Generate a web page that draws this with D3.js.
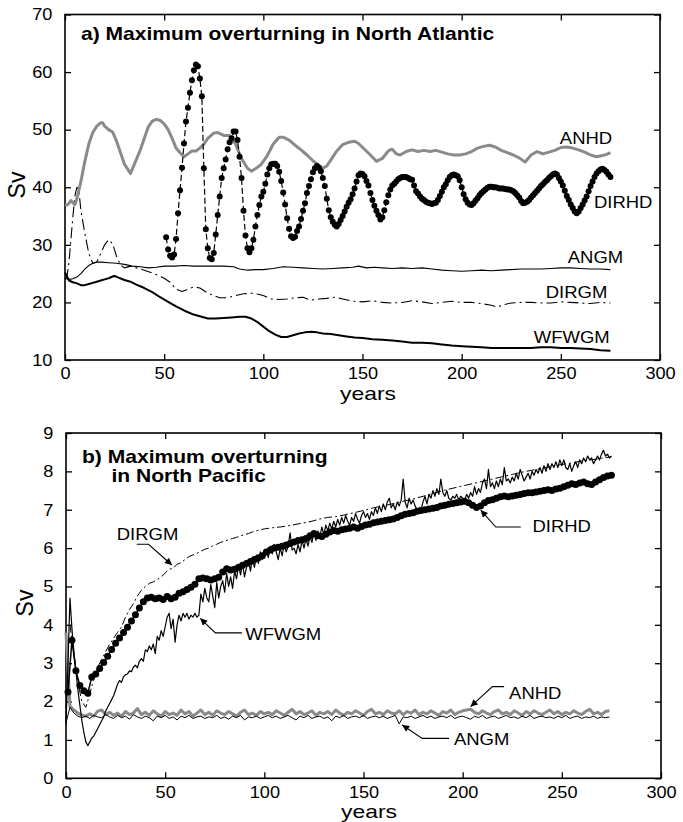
<!DOCTYPE html>
<html>
<head>
<meta charset="utf-8">
<script src="https://cdn.jsdelivr.net/npm/d3@7"></script>
<style>
  body { margin: 0; background: #fff; }
  svg text { font-family: "Liberation Sans", Arial, Helvetica, sans-serif; fill: #000; }
</style>
</head>
<body>
<script>
// ---------- data: panel a, North Atlantic (Sv) ----------
var xTicks = [0, 50, 100, 150, 200, 250, 300];
var yTicksA = [10, 20, 30, 40, 50, 60, 70];
var yTicksB = [0, 1, 2, 3, 4, 5, 6, 7, 8, 9];

var anhdA = [[0,37.0],[1,36.9],[2,37.2],[3,37.7],[4,37.3],[5,37.0],[6,38.0],[8,41.0],[10,44.5],[12,47.5],
  [14,49.5],[16,50.6],[18,51.2],[19,51.2],[20,50.6],[22,50.0],[24,49.6],[26,48.0],[28,46.0],[30,44.0],
  [33,42.4],[35,44.0],[38,46.5],[40,48.5],[42,50.5],[44,51.5],[46,51.8],[48,51.6],[50,51.0],[52,50.0],
  [54,48.5],[56,46.8],[58,46.0],[60,45.3],[62,45.8],[64,46.3],[66,46.3],[68,46.8],[70,47.5],[72,48.5],
  [75,49.4],[77,49.5],[80,49.0],[83,49.0],[86,47.5],[89,45.0],[92,43.3],[94,42.8],[96,43.2],[99,44.0],
  [102,45.5],[105,47.5],[108,48.7],[110,48.7],[113,48.2],[116,47.3],[119,46.5],[122,45.6],[125,44.6],[128,43.8],
  [130,43.3],[132,43.7],[134,44.7],[137,46.3],[140,47.4],[143,47.8],[146,48.0],[148,47.6],[151,46.6],[154,45.6],
  [157,44.5],[160,45.0],[163,46.3],[165,46.6],[167,45.8],[169,45.6],[172,46.2],[175,46.5],[178,46.2],[181,46.4],
  [184,46.2],[187,46.4],[190,46.1],[193,45.8],[196,45.6],[199,45.6],[202,45.8],[205,46.2],[208,46.8],[211,47.1],
  [214,47.3],[217,47.0],[220,46.4],[223,46.0],[226,45.6],[229,45.1],[232,44.4],[235,45.6],[238,46.2],[241,45.8],
  [244,46.1],[247,46.4],[250,46.9],[253,47.0],[256,46.8],[259,46.5],[262,46.1],[265,45.6],[268,45.3],[271,45.5],
  [273,45.7],[275,46.0]];

var dirhdAStart = 51;
var dirhdAVals = [
  31.3,29.2,28.1,27.8,28.3,31.0,35.5,39.5,43.4,47.6,
  51.4,53.8,56.4,58.6,60.3,61.3,61.0,58.9,55.8,43.3,
  32.7,29.4,27.7,27.5,28.6,31.8,35.2,38.4,41.6,43.3,
  44.8,46.6,47.8,48.5,49.7,49.7,48.2,45.3,41.6,35.9,
  31.6,29.4,28.7,29.4,30.9,33.2,35.2,36.9,38.4,39.2,
  40.6,42.2,43.3,44.0,44.1,44.1,43.7,42.7,41.1,39.1,
  37.0,34.6,32.8,31.5,31.2,31.4,32.4,33.2,34.5,35.9,
  37.2,39.0,40.2,41.4,42.6,43.3,43.7,43.4,42.8,41.6,
  40.2,38.0,36.0,34.8,34.0,33.5,33.2,33.6,34.3,35.0,
  35.8,36.6,37.3,37.9,38.8,39.8,41.0,42.1,42.4,42.3,
  41.9,41.1,40.3,39.0,37.8,36.8,35.9,35.2,34.4,34.8,
  36.0,37.4,38.6,39.6,40.3,40.6,41.0,41.4,41.6,41.8,
  41.8,41.8,41.6,41.4,41.3,40.3,39.3,38.9,38.4,38.0,
  37.8,37.5,37.3,37.2,37.1,37.2,37.3,37.8,38.5,39.2,
  40.0,40.5,41.2,41.8,42.1,42.2,42.1,41.9,41.2,40.0,
  38.8,37.9,37.3,37.0,36.9,37.2,37.7,38.1,38.6,39.0,
  39.3,39.6,39.9,40.1,40.1,40.0,40.0,39.9,39.8,39.8,
  39.8,39.7,39.6,39.6,39.5,39.3,39.0,38.6,38.2,37.6,
  37.2,37.3,37.5,37.8,38.2,38.6,39.0,39.4,39.8,40.2,
  40.5,40.9,41.2,41.6,41.9,42.2,42.4,42.2,41.6,41.0,
  40.3,39.4,38.5,37.8,37.0,36.4,35.8,35.5,35.8,36.4,
  37.0,37.7,38.4,39.3,40.2,41.0,41.8,42.4,42.8,43.1,
  43.2,43.0,42.7,42.2,41.8];

var angmA = [[0,24.2],[2,24.0],[4,24.1],[6,24.4],[8,25.0],[10,25.8],[12,26.4],[14,26.8],[16,27.0],[18,27.0],
  [22,26.9],[26,26.8],[30,26.6],[34,26.3],[38,26.2],[42,26.0],[46,26.1],[50,26.3],[55,26.3],[60,26.4],
  [65,26.3],[70,26.3],[75,26.3],[80,26.3],[85,26.2],[88,25.8],[92,25.6],[96,25.7],[100,25.7],[105,25.9],
  [110,26.2],[115,26.1],[120,26.0],[125,25.9],[130,25.8],[135,25.9],[140,26.0],[145,26.1],[148,26.3],[152,26.0],
  [156,26.1],[160,26.0],[165,25.9],[170,26.0],[175,25.9],[180,26.0],[185,25.8],[190,25.6],[195,25.5],[200,25.4],
  [205,25.5],[210,25.6],[215,25.5],[220,25.6],[225,25.7],[230,25.8],[235,25.8],[240,25.8],[245,25.9],[250,26.0],
  [255,26.0],[260,25.9],[265,25.8],[270,25.8],[275,25.7]];

var dirgmA = [[0,24.0],[1,24.5],[2,27.0],[3,31.0],[4,35.0],[5,38.5],[6,40.0],[7,39.5],[8,36.0],[10,32.0],
  [12,28.5],[14,26.8],[16,27.0],[18,28.5],[20,30.0],[22,30.9],[24,30.2],[26,28.0],[28,26.5],[30,26.0],
  [33,26.3],[36,26.0],[40,25.6],[45,25.0],[50,24.2],[53,23.5],[56,22.3],[59,21.9],[62,22.3],[65,22.7],
  [68,22.5],[72,21.6],[75,21.2],[78,20.8],[82,20.8],[86,21.2],[90,21.5],[95,21.6],[100,21.2],[104,20.6],
  [108,20.5],[112,20.6],[116,20.8],[120,20.9],[124,20.4],[128,20.6],[132,20.7],[136,20.9],[140,20.6],[145,20.2],
  [150,20.1],[155,20.3],[160,20.0],[165,19.9],[170,20.0],[175,20.3],[180,20.1],[185,19.8],[190,20.0],[195,20.2],
  [200,20.0],[205,20.0],[210,19.8],[215,19.5],[218,19.2],[221,19.6],[225,19.9],[230,20.0],[235,20.0],[240,19.9],
  [245,19.9],[250,20.1],[255,20.0],[260,19.9],[265,19.8],[270,20.0],[275,19.9]];

var wfwgmA = [[0,25.2],[1,24.5],[2,23.8],[4,23.5],[6,23.3],[8,23.0],[10,23.0],[12,23.2],[14,23.4],[16,23.6],
  [18,23.8],[20,24.0],[22,24.2],[24,24.5],[25,24.6],[27,24.3],[30,23.9],[33,23.6],[36,23.1],[40,22.5],
  [44,21.8],[48,20.9],[52,20.1],[56,19.3],[60,18.6],[64,18.0],[68,17.6],[72,17.2],[76,17.2],[80,17.3],
  [84,17.4],[88,17.5],[91,17.5],[94,17.2],[97,16.6],[100,15.8],[103,15.0],[106,14.4],[109,14.0],[112,14.0],
  [115,14.3],[118,14.6],[121,14.8],[124,14.9],[127,14.8],[130,14.6],[134,14.5],[138,14.3],[142,14.1],[146,13.9],
  [150,13.8],[155,13.6],[160,13.5],[165,13.4],[170,13.2],[175,13.0],[180,13.0],[185,12.9],[190,12.7],[195,12.5],
  [200,12.4],[205,12.3],[210,12.2],[215,12.1],[220,12.1],[225,12.1],[230,12.1],[235,12.1],[240,12.2],[245,12.2],
  [250,12.1],[255,12.1],[260,12.0],[265,11.9],[270,11.7],[275,11.6]];

// ---------- data: panel b, North Pacific (Sv) ----------
var dirhdBStart = 1, dirhdBStep = 2;
var dirhdBVals = [
  2.25,3.6,2.8,2.42,2.28,2.22,2.64,2.72,2.86,3.02,
  3.18,3.36,3.52,3.66,3.8,3.94,4.1,4.26,4.44,4.6,
  4.7,4.72,4.68,4.7,4.66,4.74,4.68,4.72,4.82,4.86,
  4.92,4.98,5.06,5.2,5.22,5.2,5.17,5.2,5.24,5.38,
  5.46,5.43,5.45,5.5,5.55,5.6,5.65,5.7,5.75,5.8,
  5.9,5.95,6.0,6.02,6.05,6.08,6.12,6.16,6.2,6.22,
  6.25,6.32,6.38,6.32,6.3,6.36,6.42,6.46,6.44,6.48,
  6.5,6.52,6.55,6.52,6.56,6.6,6.62,6.66,6.68,6.7,
  6.72,6.74,6.76,6.8,6.84,6.88,6.9,6.92,6.96,6.98,
  7.0,7.02,7.04,7.06,7.1,7.12,7.14,7.16,7.18,7.2,
  7.22,7.18,7.12,7.06,7.1,7.18,7.24,7.26,7.3,7.34,
  7.36,7.34,7.36,7.38,7.4,7.42,7.44,7.44,7.46,7.48,
  7.5,7.52,7.5,7.54,7.56,7.6,7.64,7.68,7.66,7.7,
  7.72,7.68,7.66,7.72,7.78,7.84,7.88,7.9];

var wfwgmBStart = 0;
var wfwgmBVals = [
  1.4,3.0,4.7,3.9,3.3,2.8,2.3,1.9,1.5,1.2,
  0.95,0.85,0.95,1.05,1.1,1.2,1.3,1.4,1.5,1.6,
  1.75,1.85,1.95,2.05,2.15,2.3,2.45,2.55,2.5,2.65,
  2.7,2.72,2.8,2.78,2.9,2.95,2.88,3.05,3.12,3.05,
  3.35,3.3,3.45,3.35,3.5,3.25,3.7,3.6,3.85,3.7,
  3.95,4.2,4.3,3.9,4.15,3.55,4.0,4.25,4.1,4.3,
  4.2,4.3,4.15,4.25,4.2,4.3,4.2,4.25,4.8,4.6,
  4.95,4.7,4.6,5.05,4.75,4.45,5.1,4.7,5.0,5.15,
  4.85,5.35,5.0,5.25,4.95,5.4,5.2,5.55,5.3,5.6,
  5.25,5.5,5.7,5.4,5.75,5.5,5.8,5.6,5.9,5.7,
  5.85,5.95,5.75,6.05,5.85,6.1,5.9,5.7,6.0,5.8,
  6.1,5.9,6.05,6.4,5.95,6.0,5.85,6.1,5.9,6.2,
  6.0,6.25,6.05,6.3,6.15,6.4,6.2,6.45,6.3,6.55,
  6.35,6.6,6.45,6.65,6.5,6.7,6.55,6.75,6.6,6.8,
  6.65,6.85,6.7,6.6,6.8,6.7,6.9,6.75,6.65,6.85,
  6.95,6.8,6.9,6.75,6.95,6.85,7.05,6.9,7.1,6.95,
  7.15,7.0,7.2,7.3,7.05,7.15,7.0,7.2,7.1,7.25,
  7.8,7.2,7.05,7.3,7.15,7.25,7.1,7.0,7.05,7.0,
  7.2,7.35,7.15,7.4,7.3,7.5,7.35,7.55,7.4,7.8,
  7.45,7.35,7.5,7.3,7.25,7.35,7.3,7.4,7.25,7.35,
  7.3,7.25,7.4,7.3,7.45,7.35,7.6,7.4,7.55,7.45,
  7.7,7.8,7.55,8.05,7.6,7.7,7.55,7.75,7.6,7.8,
  7.65,8.1,7.75,7.8,7.7,7.85,7.75,7.95,7.8,8.05,
  7.9,7.75,7.85,7.95,7.8,8.0,7.9,8.05,7.95,8.1,
  7.95,8.15,8.0,8.2,8.05,8.2,8.1,8.25,8.1,8.3,
  8.15,8.3,8.1,8.05,8.2,8.0,8.15,8.25,8.1,8.3,
  8.2,8.35,8.25,8.4,8.3,8.35,8.2,8.3,8.4,8.3,
  8.45,8.55,8.4,8.45,8.35,8.4];

var dirgmB = [[2,4.0],[4,3.2],[6,2.5],[8,2.0],[10,1.85],[12,2.2],[14,2.6],[16,2.9],[18,3.1],[20,3.3],
  [22,3.5],[24,3.65],[26,3.8],[28,3.95],[30,4.2],[32,4.4],[34,4.55],[36,4.75],[38,4.9],[40,5.0],
  [42,5.08],[44,5.12],[46,5.18],[48,5.25],[50,5.35],[52,5.45],[54,5.47],[56,5.58],[58,5.62],[60,5.7],
  [62,5.78],[64,5.82],[66,5.86],[68,5.92],[70,5.97],[72,6.0],[74,6.06],[76,6.1],[78,6.15],[80,6.18],
  [82,6.22],[84,6.25],[86,6.28],[88,6.32],[90,6.35],[92,6.38],[94,6.42],[96,6.45],[98,6.48],[100,6.5],
  [104,6.53],[108,6.55],[112,6.58],[116,6.62],[120,6.66],[124,6.7],[128,6.76],[132,6.8],[136,6.82],[140,6.86],
  [145,6.92],[150,6.98],[155,7.05],[160,7.1],[165,7.16],[170,7.22],[175,7.28],[180,7.35],[185,7.42],[190,7.5],
  [195,7.56],[200,7.62],[205,7.68],[210,7.74],[215,7.8],[220,7.86],[225,7.92],[230,7.98],[235,8.03],[240,8.08],
  [245,8.13],[250,8.18],[255,8.22],[260,8.27],[265,8.3],[270,8.34],[275,8.38]];

var noiseBStart = 0, noiseBStep = 2;
var anhdBVals = [
  3.8,1.88,1.78,1.7,1.65,1.62,1.68,1.62,1.75,1.78,
  1.66,1.72,1.64,1.7,1.62,1.74,1.66,1.7,1.82,1.66,
  1.72,1.64,1.76,1.68,1.62,1.74,1.66,1.7,1.64,1.78,
  1.68,1.74,1.62,1.7,1.78,1.66,1.72,1.64,1.76,1.7,
  1.66,1.74,1.68,1.62,1.72,1.78,1.66,1.7,1.64,1.74,
  1.68,1.72,1.66,1.76,1.7,1.64,1.72,1.8,1.68,1.74,
  1.66,1.7,1.76,1.64,1.72,1.68,1.74,1.66,1.78,1.7,
  1.64,1.72,1.68,1.76,1.7,1.64,1.74,1.8,1.68,1.72,
  1.66,1.76,1.7,1.68,1.76,1.66,1.74,1.7,1.78,1.66,
  1.72,1.68,1.76,1.7,1.64,1.74,1.7,1.78,1.66,1.72,
  1.76,1.78,1.8,1.72,1.68,1.76,1.7,1.66,1.74,1.78,
  1.68,1.72,1.66,1.76,1.7,1.64,1.74,1.68,1.76,1.7,
  1.66,1.72,1.78,1.68,1.74,1.66,1.72,1.68,1.76,1.7,
  1.66,1.74,1.8,1.68,1.72,1.66,1.74,1.76];
var angmBVals = [
  1.45,1.85,1.7,1.62,1.58,1.62,1.56,1.64,1.6,1.58,
  1.66,1.6,1.56,1.64,1.58,1.62,1.54,1.66,1.6,1.56,
  1.62,1.58,1.5,1.62,1.58,1.64,1.56,1.6,1.52,1.62,
  1.58,1.64,1.56,1.6,1.62,1.56,1.6,1.58,1.64,1.56,
  1.6,1.54,1.62,1.58,1.64,1.52,1.6,1.58,1.62,1.56,
  1.6,1.64,1.58,1.62,1.56,1.6,1.64,1.58,1.52,1.62,
  1.58,1.64,1.56,1.6,1.62,1.56,1.6,1.5,1.62,1.58,
  1.64,1.56,1.6,1.62,1.58,1.64,1.56,1.6,1.62,1.58,
  1.62,1.56,1.6,1.64,1.42,1.6,1.58,1.62,1.56,1.6,
  1.64,1.58,1.62,1.56,1.6,1.62,1.58,1.64,1.56,1.6,
  1.62,1.58,1.54,1.62,1.58,1.64,1.56,1.6,1.62,1.56,
  1.6,1.64,1.58,1.6,1.56,1.62,1.58,1.64,1.56,1.6,
  1.62,1.58,1.6,1.56,1.62,1.58,1.64,1.56,1.6,1.62,
  1.56,1.6,1.58,1.62,1.56,1.6,1.58,1.6];

// ---------- drawing ----------
function regular(start, step, vals) {
  return vals.map(function(v, i) { return [start + i * step, v]; });
}

var svg = d3.select("body").append("svg")
  .attr("width", 683)
  .attr("height", 822);

svg.append("defs").append("marker")
  .attr("id", "head")
  .attr("viewBox", "0 0 10 10")
  .attr("refX", 10).attr("refY", 5)
  .attr("markerWidth", 9).attr("markerHeight", 7)
  .attr("markerUnits", "userSpaceOnUse")
  .attr("orient", "auto")
  .append("path").attr("d", "M0,0L10,5L0,10z").attr("fill", "#000");

// text with a slight horizontal stretch, like the source figure
function addText(g, x, y, str, size, opt) {
  opt = opt || {};
  return g.append("text")
    .attr("transform", "translate(" + x + "," + y + ")" + (opt.rot ? " rotate(-90)" : "") +
      " scale(" + (opt.sx || 1) + ",1)")
    .attr("font-size", size)
    .attr("font-weight", opt.bold ? "bold" : null)
    .attr("text-anchor", opt.anchor || "start")
    .text(str);
}

function makePanel(box, yDomain, yTicks, xPad) {
  var g = svg.append("g");
  var x = d3.scaleLinear().domain([0, 300]).range([box.left, box.right]);
  var y = d3.scaleLinear().domain(yDomain).range([box.bottom, box.top]);

  var bottom = g.append("g").attr("transform", "translate(0," + box.bottom + ")")
    .call(d3.axisBottom(x).tickValues(xTicks).tickSize(-6).tickPadding(xPad));
  var top = g.append("g").attr("transform", "translate(0," + box.top + ")")
    .call(d3.axisTop(x).tickValues(xTicks).tickSize(-6).tickFormat(""));
  var left = g.append("g").attr("transform", "translate(" + box.left + ",0)")
    .call(d3.axisLeft(y).tickValues(yTicks).tickSize(-6).tickPadding(11.5));
  var right = g.append("g").attr("transform", "translate(" + box.right + ",0)")
    .call(d3.axisRight(y).tickValues(yTicks).tickSize(-6).tickFormat(""));

  [bottom, top, left, right].forEach(function(a) {
    a.select(".domain").remove();
    a.selectAll("line").attr("stroke", "#000").attr("stroke-width", 1.3);
    a.selectAll("text")
      .attr("font-size", 16.5)
      .attr("font-family", "Liberation Sans, Arial, sans-serif")
      .attr("fill", "#000")
      .attr("transform", "scale(1.1,1)");
  });

  g.append("rect")
    .attr("x", box.left).attr("y", box.top)
    .attr("width", box.right - box.left).attr("height", box.bottom - box.top)
    .attr("fill", "none").attr("stroke", "#000").attr("stroke-width", 1.6);

  return { g: g, x: x, y: y };
}

function drawLine(p, data, stroke, width, dash) {
  var line = d3.line().x(function(d) { return p.x(d[0]); }).y(function(d) { return p.y(d[1]); });
  p.g.append("path")
    .datum(data)
    .attr("d", line)
    .attr("fill", "none")
    .attr("stroke", stroke)
    .attr("stroke-width", width)
    .attr("stroke-linejoin", "round")
    .attr("stroke-dasharray", dash || null);
}

function drawDots(p, data, r) {
  p.g.append("g").selectAll("circle")
    .data(data)
    .enter().append("circle")
    .attr("cx", function(d) { return p.x(d[0]); })
    .attr("cy", function(d) { return p.y(d[1]); })
    .attr("r", r)
    .attr("fill", "#000");
}

// ----- panel a -----
var pa = makePanel({ left: 65, right: 660, top: 14.5, bottom: 360 }, [10, 70], yTicksA, 7);

var dirhdA = regular(dirhdAStart, 1, dirhdAVals);
drawLine(pa, wfwgmA, "#000", 2);
drawLine(pa, angmA, "#000", 1.1);
drawLine(pa, dirgmA, "#000", 1.1, "11,4,2,4");
drawLine(pa, anhdA, "#8a8a8a", 3);
drawLine(pa, dirhdA, "#000", 1.2, "6,3");
drawDots(pa, dirhdA, 3);

addText(pa.g, 81, 39.5, "a) Maximum overturning in North Atlantic", 18, { bold: true, sx: 1.17 });

var labelsA = [
  { name: "ANHD", at: [249.5, 47.5] },
  { name: "DIRHD", at: [266.7, 36.4] },
  { name: "ANGM", at: [253.5, 26.9] },
  { name: "DIRGM", at: [242.4, 20.8] },
  { name: "WFWGM", at: [236.4, 12.9] }
];
labelsA.forEach(function(l) {
  addText(pa.g, pa.x(l.at[0]), pa.y(l.at[1]), l.name, 16.8, { sx: 1.1 });
});

addText(pa.g, 25, 185, "Sv", 23, { rot: true, anchor: "middle" });
addText(pa.g, 368, 400, "years", 18, { anchor: "middle", sx: 1.27 });

// ----- panel b -----
var pb = makePanel({ left: 66, right: 661, top: 433, bottom: 778.3 }, [0, 9], yTicksB, 8);

drawLine(pb, regular(noiseBStart, noiseBStep, anhdBVals), "#8a8a8a", 3);
drawLine(pb, regular(noiseBStart, noiseBStep, angmBVals), "#000", 1);
drawLine(pb, dirgmB, "#000", 1, "8,3,2,3");
var dirhdB = regular(dirhdBStart, dirhdBStep, dirhdBVals);
drawLine(pb, dirhdB, "#000", 1.5);
drawDots(pb, dirhdB, 3.5);
drawLine(pb, regular(wfwgmBStart, 1, wfwgmBVals), "#000", 1.2);

addText(pb.g, 82, 463, "b) Maximum overturning", 18, { bold: true, sx: 1.17 });
addText(pb.g, 111.5, 482, "in North Pacific", 18, { bold: true, sx: 1.17 });

var labelsB = [
  { name: "DIRGM", at: [25.6, 6.2], lead: [[35.7, 6.1], [41.6, 6.1], [53.4, 5.56]] },
  { name: "DIRHD", at: [235.2, 6.42], lead: [[229.3, 6.55], [216.7, 6.55], [209.1, 6.99]] },
  { name: "WFWGM", at: [90.4, 3.6], lead: [[88.7, 3.79], [75.3, 3.79], [67.7, 4.17]] },
  { name: "ANHD", at: [223.4, 2.07], lead: [[220.9, 2.39], [215.0, 2.39], [204.0, 1.87]] },
  { name: "ANGM", at: [195.6, 0.87], lead: [[193.1, 1.04], [179.6, 1.04], [169.5, 1.39]] }
];
labelsB.forEach(function(l) {
  addText(pb.g, pb.x(l.at[0]), pb.y(l.at[1]), l.name, 16.8, { sx: 1.1 });
  pb.g.append("path")
    .attr("d", d3.line().x(function(d) { return pb.x(d[0]); }).y(function(d) { return pb.y(d[1]); })(l.lead))
    .attr("fill", "none")
    .attr("stroke", "#000")
    .attr("stroke-width", 1.1)
    .attr("marker-end", "url(#head)");
});

addText(pb.g, 33, 603, "Sv", 23, { rot: true, anchor: "middle" });
addText(pb.g, 369, 818, "years", 18, { anchor: "middle", sx: 1.27 });
</script>
</body>
</html>
